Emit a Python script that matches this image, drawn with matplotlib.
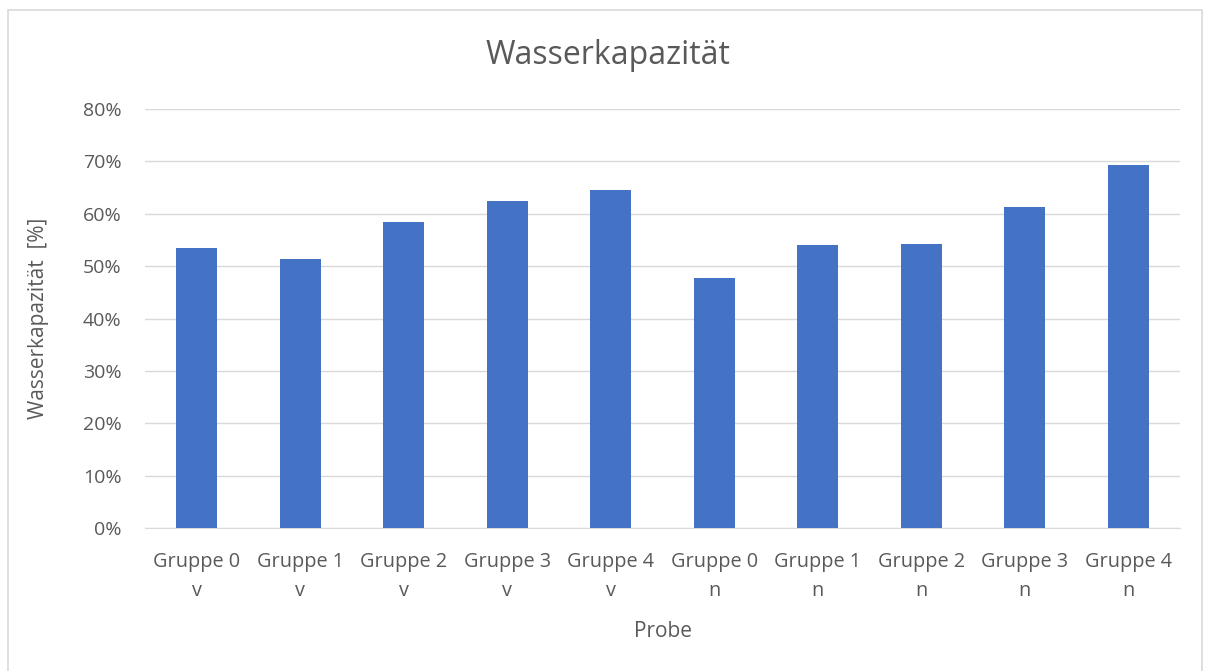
import matplotlib
matplotlib.use("Agg")
import matplotlib.pyplot as plt
from matplotlib.ticker import PercentFormatter
from matplotlib.patches import Rectangle

categories = ["Gruppe 0\nv", "Gruppe 1\nv", "Gruppe 2\nv", "Gruppe 3\nv", "Gruppe 4\nv",
              "Gruppe 0\nn", "Gruppe 1\nn", "Gruppe 2\nn", "Gruppe 3\nn", "Gruppe 4\nn"]
values = [53.5, 51.4, 58.4, 62.4, 64.5, 47.8, 54.1, 54.2, 61.2, 69.4]
yticks = [0, 10, 20, 30, 40, 50, 60, 70, 80]

plt.rcParams['font.family'] = ['Open Sans', 'DejaVu Sans']
txt = '#595959'

W, H = 1205, 671
fig = plt.figure(figsize=(W / 100, H / 100), dpi=100)
fig.patches.append(Rectangle((8 / W, -10 / H), 1194 / W, 671 / H, transform=fig.transFigure,
                             fill=False, edgecolor='#D9D9D9', linewidth=1.2))

left, right, top, bottom = 145, 1180, 109, 528
ax = fig.add_axes([left / W, 1 - bottom / H, (right - left) / W, (bottom - top) / H])

x = range(len(categories))
ax.bar(x, values, width=0.4, color='#4472C4', zorder=3)
ax.set_xlim(-0.5, len(categories) - 0.5)
ax.set_ylim(0, 80)
ax.set_yticks(yticks)
ax.yaxis.set_major_formatter(PercentFormatter(decimals=0))
ax.set_xticks(list(x))
ax.set_xticklabels(categories, fontsize=14.3, color=txt, linespacing=1.6)
ax.tick_params(axis='y', labelsize=14, colors=txt, length=0, pad=17)
ax.tick_params(axis='x', length=0, pad=17)
ax.grid(axis='y', color='#D9D9D9', linewidth=1, zorder=0)
for s in ['top', 'right', 'left']:
    ax.spines[s].set_visible(False)
ax.spines['bottom'].set_color('#D9D9D9')

ax.set_ylabel("Wasserkapazität  [%]", fontsize=15, color=txt, labelpad=24)
ax.set_xlabel("Probe", fontsize=15, color=txt, labelpad=15)
fig.text(608 / W, 1 - 55 / H, "Wasserkapazität", ha='center', va='center',
         fontsize=23, color=txt)

fig.savefig("out.png", dpi=100, facecolor='white')
